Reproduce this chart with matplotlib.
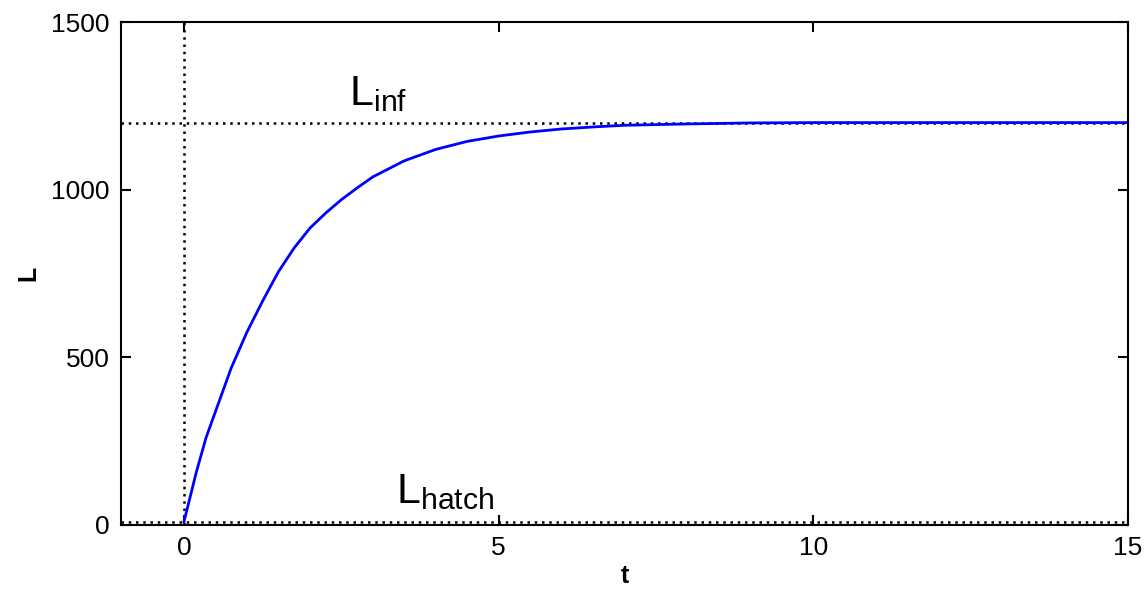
import matplotlib
matplotlib.use("Agg")
import matplotlib.pyplot as plt

plt.rcParams["font.family"] = ["Liberation Sans", "DejaVu Sans"]
plt.rcParams["mathtext.fontset"] = "custom"
plt.rcParams["mathtext.rm"] = "Liberation Sans"
plt.rcParams["mathtext.it"] = "Liberation Sans"

# growth curve
t = [0, 0.1, 0.2, 0.35, 0.5, 0.75, 1, 1.25, 1.5, 1.75, 2, 2.25, 2.5, 2.75, 3,
     3.5, 4, 4.5, 5, 5.5, 6, 6.5, 7, 8, 9, 10, 15]
L = [10, 85, 160, 260, 338, 468, 575, 668, 755, 826, 885, 930, 970, 1005, 1038,
     1086, 1120, 1144, 1160, 1172, 1181, 1187, 1192, 1196, 1199, 1200, 1200]

L_inf = 1200
L_hatch = 10

xticks = [0, 5, 10, 15]
yticks = [0, 500, 1000, 1500]

fig = plt.figure(figsize=(11.44, 5.90), dpi=100)
ax = fig.add_axes([0.1058, 1 - 525 / 590, 0.8802, 503 / 590])

dot = dict(color="black", linestyle=(0, (1, 1.9)), linewidth=1.8)
ax.axhline(L_inf, **dot)
ax.axhline(L_hatch, **dot)
ax.axvline(0, **dot)
ax.plot(t, L, color="#0000ff", linewidth=2.0)

ax.text(2.62, 1253, r"L$_{\mathrm{inf}}$", fontsize=31)
ax.text(3.37, 66, r"L$_{\mathrm{hatch}}$", fontsize=31)

ax.set_xlim(-1, 15)
ax.set_ylim(0, 1500)
ax.set_xticks(xticks)
ax.set_yticks(yticks)
ax.tick_params(direction="in", length=7, width=1.5, top=True, right=True,
               labelsize=19, pad=8)
for s in ax.spines.values():
    s.set_linewidth(1.5)

ax.set_xlabel("t", fontsize=18, fontweight="bold", labelpad=3)
ax.set_ylabel("L", fontsize=18, fontweight="bold", labelpad=8)

fig.savefig("out.png", dpi=100)
